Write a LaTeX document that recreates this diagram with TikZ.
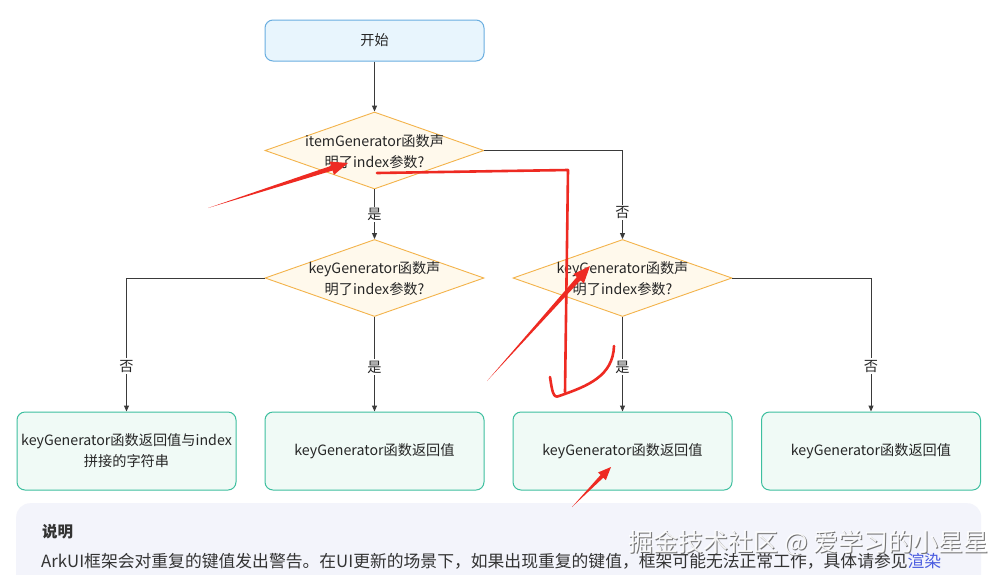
\documentclass[tikz,border=0pt]{standalone}
\usepackage{fontspec}
\setmainfont{Noto Sans CJK SC}
\usetikzlibrary{shapes.geometric,arrows.meta,calc}
\definecolor{startfill}{HTML}{E8F5FD}
\definecolor{startdraw}{HTML}{6AAEE0}
\definecolor{diafill}{HTML}{FFF9EC}
\definecolor{diadraw}{HTML}{F3B34A}
\definecolor{boxfill}{HTML}{F0FAF6}
\definecolor{boxdraw}{HTML}{3DBF9F}
\definecolor{linecol}{HTML}{3A3A3A}
\definecolor{notefill}{HTML}{F3F4FB}
\definecolor{notetext}{HTML}{333333}
\definecolor{linkblue}{HTML}{4A5CE0}
\definecolor{annot}{HTML}{EE2A22}
\newcommand\redarrow[4]{%
  \coordinate (rA) at (#1);
  \coordinate (rB) at (#2);
  \coordinate (rH) at ($(rB)!#3!(rA)$);
  \fill[annot] (rA) -- ($(rH)!0.35*#4!90:(rB)$) -- ($(rH)!#4!90:(rB)$) -- (rB)
     -- ($(rH)!#4!-90:(rB)$) -- ($(rH)!0.35*#4!-90:(rB)$) -- cycle;}
\tikzset{
  txt/.style={font=\fontsize{14.2}{21}\selectfont, text=black!85},
  startbox/.style={txt, draw=startdraw, fill=startfill, rounded corners=8pt, line width=1pt,
    minimum width=219pt, minimum height=41pt, inner sep=0pt},
  dia/.style={diamond, draw=diadraw, fill=diafill, line width=0.9pt,
    minimum width=219pt, minimum height=77pt, inner sep=0pt},
  diatext/.style={txt, align=center, inner sep=0pt},
  resbox/.style={txt, draw=boxdraw, fill=boxfill, rounded corners=8pt, line width=1pt,
    minimum width=219pt, minimum height=78pt, inner sep=0pt, align=center},
  arr/.style={draw=linecol, line width=1pt, -{Triangle[length=6pt,width=5pt]}},
  lbl/.style={txt, fill=white, inner sep=1.5pt},
}
\begin{document}
\begin{tikzpicture}[x=1pt,y=-1pt]
\useasboundingbox (0,0) rectangle (1006,574);
\fill[white] (0,0) rectangle (1006,574);

\node[startbox] (start) at (374.5,40.5) {开始};

\node[dia, label={[diatext, yshift=-1pt]center:{itemGenerator函数声\\明了index参数?}}] (d1) at (374.5,150.5) {};
\node[dia, label={[diatext, yshift=-1pt]center:{keyGenerator函数声\\明了index参数?}}] (d2L) at (374.5,278) {};
\node[dia, label={[diatext, yshift=-1pt]center:{keyGenerator函数声\\明了index参数?}}] (d2R) at (622.5,278) {};

\node[resbox] (b1) at (126.5,451) {keyGenerator函数返回值与index\\拼接的字符串};
\node[resbox] (b2) at (374.5,451) {keyGenerator函数返回值};
\node[resbox] (b3) at (622.5,451) {keyGenerator函数返回值};
\node[resbox] (b4) at (871,451) {keyGenerator函数返回值};

\draw[arr] (start) -- (d1);
\draw[arr] (d1) -- node[lbl]{是} (d2L);
\draw[arr] (d1.east) -| node[lbl,pos=0.85]{否} (d2R.north);
\draw[arr] (d2L.west) -| node[lbl,pos=0.83]{否} (b1.north);
\draw[arr] (d2L) -- node[lbl,pos=0.53]{是} (b2);
\draw[arr] (d2R) -- node[lbl,pos=0.53]{是} (b3);
\draw[arr] (d2R.east) -| node[lbl,pos=0.83]{否} (b4.north);

% note panel
\node[fill=notefill, rounded corners=14pt, minimum width=965pt, minimum height=110pt, inner sep=0pt, anchor=north west] (note) at (16,503) {};
\node[anchor=west, inner sep=0pt, text=notetext, font=\fontsize{15.5}{18}\bfseries\selectfont] (notetitle) at (42,532) {说明};
\node[anchor=west, inner sep=0pt, text=notetext, font=\fontsize{16.8}{20}\selectfont] (notebody) at (41,561)
  {ArkUI框架会对重复的键值发出警告。在UI更新的场景下，如果出现重复的键值，框架可能无法正常工作，具体请参见\textcolor{linkblue}{渲染}};

% watermark
\node[text=black!55, font=\fontsize{25}{28}\selectfont, inner sep=0pt] (wm1) at (809.5,544.5) {掘金技术社区 @ 爱学习的小星星};
\node[text=white, font=\fontsize{25}{28}\selectfont, inner sep=0pt, opacity=0.9] (wm2) at (808.5,543.5) {掘金技术社区 @ 爱学习的小星星};

% red annotations
\redarrow{208,208}{348,163}{17pt}{7pt}
\redarrow{487,381}{590,266}{17pt}{7pt}
\redarrow{572,507}{611,467}{13pt}{5.5pt}
\draw[annot, line width=2.6pt, line cap=round, line join=round]
  (377,173) -- (568,170) -- (565,392);
\draw[annot, line width=2.6pt, line cap=round, line join=round]
  (550,377) .. controls (552,390) and (553,399) .. (559,396)
  .. controls (588,386) and (613,376) .. (614,346);
\end{tikzpicture}
\end{document}
